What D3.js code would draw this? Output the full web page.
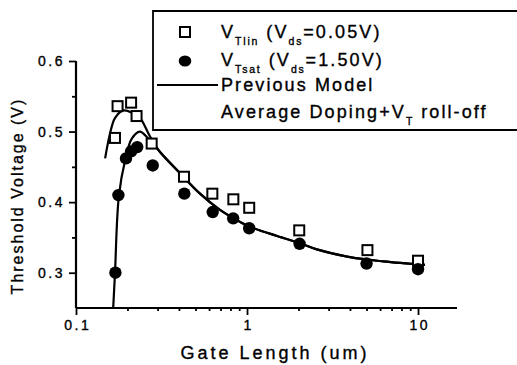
<!DOCTYPE html>
<html><head><meta charset="utf-8">
<script src="https://cdn.jsdelivr.net/npm/d3@7"></script>
<style>
html,body{margin:0;padding:0;background:#fff;}
svg{display:block;font-family:"Liberation Sans",Arial,Helvetica,sans-serif;}
svg text{stroke:#000;stroke-width:0.35px;fill:#000;}
</style></head>
<body><svg id="c" width="517" height="365"></svg>
<script>
// ---- data ----
const lengthLin = [0.169,0.175,0.21,0.226,0.277,0.428,0.627,0.832,1.03,2.02,5.06,10];
const vtLin     = [0.491,0.536,0.541,0.522,0.483,0.436,0.412,0.404,0.392,0.360,0.332,0.317];
const lengthSat = [0.17,0.177,0.196,0.21,0.228,0.281,0.43,0.63,0.83,1.03,2.03,5.0,10];
const vtSat     = [0.300,0.410,0.462,0.472,0.478,0.452,0.412,0.386,0.377,0.363,0.341,0.313,0.305];
// previous model curves
const modelLinL = [0.148,0.158,0.169,0.189,0.216,0.236,0.271,0.31,0.406,0.531,0.695,0.91,1.04,1.5,2.03,2.56,4.0,6.27,10.97];
const modelLinV = [0.462,0.497,0.519,0.530,0.526,0.520,0.493,0.471,0.441,0.412,0.389,0.372,0.365,0.352,0.342,0.333,0.322,0.316,0.311];
const modelSatL = [0.165,0.169,0.178,0.194,0.212,0.236,0.265,0.31,0.406,0.531,0.695,0.91,1.04,1.5,2.03,2.56,4.0,6.27,10.97];
const modelSatV = [0.25,0.299,0.408,0.460,0.490,0.500,0.490,0.471,0.441,0.412,0.389,0.372,0.365,0.352,0.342,0.333,0.322,0.316,0.311];
const yTicks = [0.3,0.4,0.5,0.6];
const yMinor = [0.35,0.45,0.55];
const xTicks = [0.1,1,10];
const xTickLabels = ["0.1","1","10"];
const xMinor = [0.2,0.3,0.4,0.5,0.6,0.7,0.8,0.9,2,3,4,5,6,7,8,9];

const svg = d3.select("#c");
const x = d3.scaleLog().domain([0.1,16.9]).range([76,457]);
const y = d3.scaleLinear().domain([0.25,0.6]).range([308,61]);
const FONT = "'Liberation Sans',Arial,Helvetica,sans-serif";

// axes
const gy = svg.append("g").attr("transform","translate(76,0)")
  .call(d3.axisLeft(y).tickValues(yTicks).tickSize(7).tickPadding(4).tickFormat(d3.format(".1f")));
const gym = svg.append("g").attr("transform","translate(76,0)")
  .call(d3.axisLeft(y).tickValues(yMinor).tickSize(4).tickFormat(""));
const gx = svg.append("g").attr("transform","translate(0,308)")
  .call(d3.axisBottom(x).tickValues(xTicks).tickSize(7).tickPadding(5).tickFormat((d,i)=>xTickLabels[i]));
const gxm = svg.append("g").attr("transform","translate(0,308)")
  .call(d3.axisBottom(x).tickValues(xMinor).tickSize(3).tickFormat(""));
[gy,gym,gx,gxm].forEach(g=>{
  g.select(".domain").attr("stroke","#000").attr("stroke-width",2.2);
  g.selectAll(".tick line").attr("stroke","#000").attr("stroke-width",1.8);
  g.selectAll("text").attr("fill","#000").style("font-family",FONT).style("font-size","14px").style("letter-spacing","2.5px");
});
gx.selectAll(".tick text").attr("dx","1.2px");
gym.select(".domain").remove(); gxm.select(".domain").remove();
gy.select(".domain").attr("d","M0,308V61");
gx.select(".domain").attr("d","M76,0H457");

// axis titles
svg.append("text").attr("x",275).attr("y",359).attr("text-anchor","middle")
  .style("font-size","18px").style("letter-spacing","3px").text("Gate Length (um)");
svg.append("text").attr("transform","translate(23,196) rotate(-90)").attr("text-anchor","middle")
  .style("font-size","16px").style("letter-spacing","2px").text("Threshold Voltage (V)");

// model curves
const line = d3.line().x(d=>x(d[0])).y(d=>y(d[1])).curve(d3.curveCatmullRom.alpha(0.5));
svg.append("path").datum(modelLinL.map((l,i)=>[l,modelLinV[i]])).attr("d",line)
  .attr("fill","none").attr("stroke","#000").attr("stroke-width",2.2);
svg.append("path").datum(modelSatL.map((l,i)=>[l,modelSatV[i]])).attr("d",line)
  .attr("fill","none").attr("stroke","#000").attr("stroke-width",2.2);

// markers
svg.append("g").selectAll("rect").data(lengthLin.map((l,i)=>[l,vtLin[i]])).join("rect")
  .attr("x",d=>x(d[0])-5).attr("y",d=>y(d[1])-5).attr("width",10).attr("height",10)
  .attr("fill","#fff").attr("stroke","#000").attr("stroke-width",2);
svg.append("g").selectAll("circle").data(lengthSat.map((l,i)=>[l,vtSat[i]])).join("circle")
  .attr("cx",d=>x(d[0])).attr("cy",d=>y(d[1])).attr("r",6.2).attr("fill","#000");

// legend
const lg = svg.append("g");
lg.append("path").attr("d","M517,11H153V130H517").attr("fill","#fff").attr("stroke","#000").attr("stroke-width",1.8);
lg.append("rect").attr("x",180).attr("y",27).attr("width",10).attr("height",10)
  .attr("fill","#fff").attr("stroke","#000").attr("stroke-width",2);
lg.append("ellipse").attr("cx",185).attr("cy",61).attr("rx",6.3).attr("ry",5.5).attr("fill","#000");
lg.append("line").attr("x1",157).attr("x2",218).attr("y1",85).attr("y2",85).attr("stroke","#000").attr("stroke-width",2);
function legText(yb, parts){
  const t = lg.append("text").attr("x",221).attr("y",yb).style("font-size","18px").style("letter-spacing","2.1px");
  parts.forEach(p=>{
    const s = t.append("tspan").text(p[0]);
    if(p[1]==="sub") s.style("font-size","10.5px").attr("dy",7).style("letter-spacing","1.8px");
    if(p[1]==="up") s.attr("dy",-7);
  });
}
legText(38,[["V"],["Tlin","sub"],[" (V","up"],["ds","sub"],["=0.05V)","up"]]);
legText(66,[["V"],["Tsat","sub"],[" (V","up"],["ds","sub"],["=1.50V)","up"]]);
legText(91,[["Previous Model"]]);
legText(118,[["Average Doping+V"],["T","sub"],[" roll-off","up"]]);
</script></body></html>
